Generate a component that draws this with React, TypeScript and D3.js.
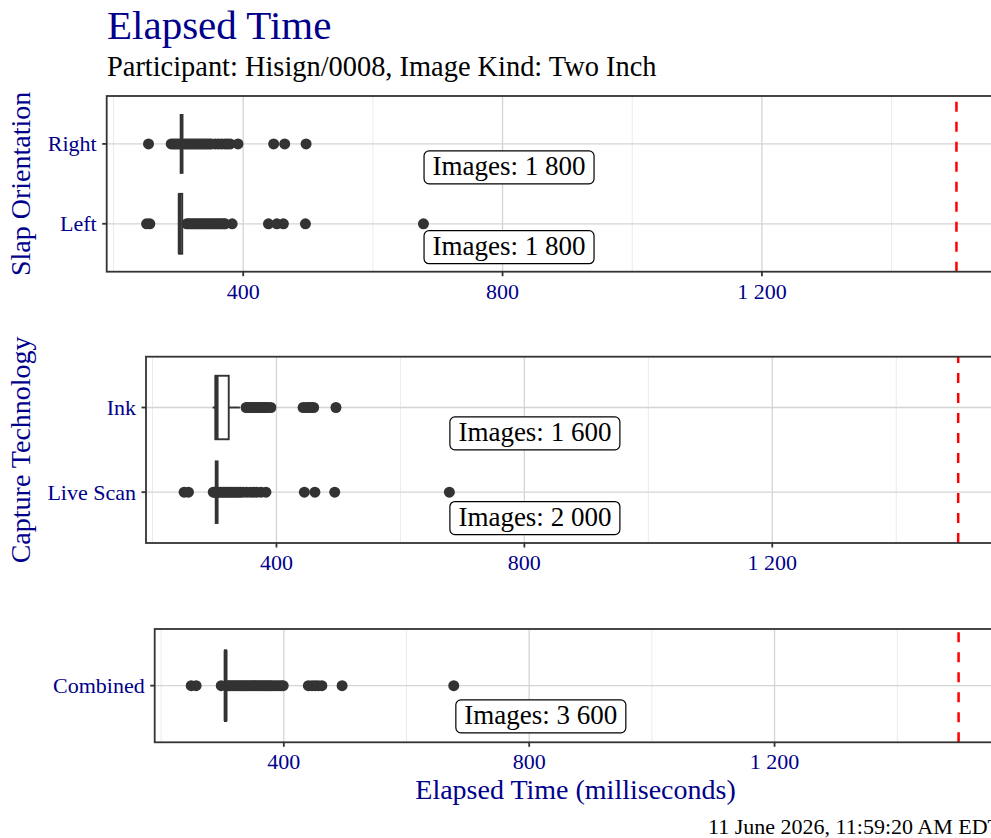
import * as d3 from "d3";

// category levels per panel
const slapLevels = ["Right", "Left"];
const captureLevels = ["Ink", "Live Scan"];
const combinedLevels = ["Combined"];

// box stats: [lower whisker, q1, median, q3, upper whisker] (ms)
const rightBox = [305, 305, 305, 305, 305];
const leftBox = [301, 301, 302, 306, 306];
const inkBox = [297, 301.5, 303.5, 323, 341];
const liveScanBox = [303.5, 303.5, 303.5, 303.5, 303.5];
const combinedBox = [297, 304, 305, 306, 307];

// outliers (ms)
const rightOutliers = [254, 289, 292, 295, 298, 301, 309, 312, 315, 318, 321, 324, 327, 330, 333, 336, 339, 342, 345, 348, 351, 357, 362, 367, 372, 376, 380, 392, 447, 464, 497];
const leftOutliers = [251, 256, 313, 316, 319, 322, 325, 328, 331, 334, 337, 340, 343, 346, 349, 352, 355, 358, 361, 364, 367, 370, 372, 383, 439, 452, 462, 496, 678];
const inkOutliers = [351, 354, 357, 360, 363, 366, 369, 372, 375, 378, 381, 384, 387, 391, 443, 448, 452, 456, 460, 496];
const liveScanOutliers = [251, 258, 298, 300, 302, 306, 309, 312, 315, 318, 321, 324, 327, 330, 333, 336, 339, 342, 346, 352, 358, 363, 368, 375, 383, 445, 462, 494, 679];
const combinedOutliers = [249, 257, 298, 308, 311, 314, 317, 320, 323, 326, 329, 332, 335, 338, 341, 344, 347, 350, 353, 356, 359, 362, 365, 368, 371, 374, 377, 380, 384, 388, 392, 396, 399, 440, 446, 451, 456, 462, 495, 677];

// image counts per category
const slapCounts = [1800, 1800];
const captureCounts = [1600, 2000];
const combinedCounts = [3600];

const xTicks = [400, 800, 1200];
const xMinor = [200, 600, 1000, 1400];
const threshold = 1500;
const xDomain = [189.5, 1561];

const font = "'Liberation Serif', serif";
const navy = "#00008B";
const ink = "#333333";
const fmt = d3.formatLocale({ decimal: ".", thousands: " ", grouping: [3], currency: ["", ""] }).format(",");

type PanelProps = {
  levels: string[];
  boxes: number[][];
  outliers: number[][];
  counts: number[];
  labelX: number;
  left: number;
  top: number;
  bottom: number;
  yTitle?: string;
};

const right = 996;

function Panel({ levels, boxes, outliers, counts, labelX, left, top, bottom, yTitle }: PanelProps) {
  const x = d3.scaleLinear().domain(xDomain).range([left, right]);
  const y = d3.scalePoint<string>().domain(levels).range([top, bottom]).padding(0.6);
  const step = y.step();
  const bw = step * 0.75;
  return (
    <g>
      {/* grid */}
      {xMinor.map((v) => (
        <line key={"mi" + v} x1={x(v)} x2={x(v)} y1={top} y2={bottom} stroke="#ebebeb" strokeWidth={1} />
      ))}
      {xTicks.map((v) => (
        <line key={"ma" + v} x1={x(v)} x2={x(v)} y1={top} y2={bottom} stroke="#d4d4d4" strokeWidth={1.3} />
      ))}
      {levels.map((l) => (
        <line key={"h" + l} x1={left} x2={right} y1={y(l)} y2={y(l)} stroke="#d4d4d4" strokeWidth={1.3} />
      ))}
      {/* boxplots */}
      {levels.map((l, i) => {
        const [wl, q1, md, q3, wh] = boxes[i];
        const cy = y(l) ?? 0;
        return (
          <g key={"b" + l}>
            <line x1={x(wl)} x2={x(q1)} y1={cy} y2={cy} stroke={ink} strokeWidth={1.9} />
            <line x1={x(q3)} x2={x(wh)} y1={cy} y2={cy} stroke={ink} strokeWidth={1.9} />
            <rect x={x(q1)} y={cy - bw / 2} width={Math.max(0, x(q3) - x(q1))} height={bw} fill="white" stroke={ink} strokeWidth={1.9} />
            <line x1={x(md)} x2={x(md)} y1={cy - bw / 2} y2={cy + bw / 2} stroke={ink} strokeWidth={3.8} />
            {outliers[i].map((v, j) => (
              <circle key={j} cx={x(v)} cy={cy} r={5.5} fill={ink} />
            ))}
          </g>
        );
      })}
      {/* threshold */}
      <line x1={x(threshold)} x2={x(threshold)} y1={bottom} y2={top} stroke="red" strokeWidth={2.5} strokeDasharray="10,10" />
      {/* count labels */}
      {levels.map((l, i) => {
        const by = (y(l) ?? 0) + step * 0.5;
        const cx = x(labelX);
        const w = 170;
        const h = 33;
        return (
          <g key={"lab" + l}>
            <rect x={cx - w / 2} y={by - h} width={w} height={h} rx={5} fill="white" stroke="black" strokeWidth={1.2} />
            <text x={cx} y={by - 8.5} textAnchor="middle" fontSize={27} fill="black">
              {"Images: " + fmt(counts[i])}
            </text>
          </g>
        );
      })}
      {/* border */}
      <rect x={left} y={top} width={right - left} height={bottom - top} fill="none" stroke={ink} strokeWidth={1.8} />
      {/* y axis */}
      {levels.map((l) => (
        <g key={"yt" + l}>
          <line x1={left - 4.5} x2={left} y1={y(l)} y2={y(l)} stroke={ink} strokeWidth={1.8} />
          <text x={left - 10} y={(y(l) ?? 0) + 7.5} textAnchor="end" fontSize={22} fill={navy}>{l}</text>
        </g>
      ))}
      {/* x axis */}
      {xTicks.map((v) => (
        <g key={"xt" + v}>
          <line x1={x(v)} x2={x(v)} y1={bottom} y2={bottom + 4.5} stroke={ink} strokeWidth={1.8} />
          <text x={x(v)} y={bottom + 27} textAnchor="middle" fontSize={22} fill={navy}>{fmt(v)}</text>
        </g>
      ))}
      {yTitle && (
        <text transform={`translate(30,${(top + bottom) / 2}) rotate(-90)`} textAnchor="middle" fontSize={28} fill={navy}>
          {yTitle}
        </text>
      )}
    </g>
  );
}

export default function App() {
  return (
    <svg width={991} height={838} style={{ position: "absolute", left: 0, top: 0, background: "white" }} fontFamily={font}>
      <rect width={991} height={838} fill="white" />
      <text x={107} y={39} fontSize={41} fill={navy}>Elapsed Time</text>
      <text x={107} y={76} fontSize={28.4} fill="black">Participant: Hisign/0008, Image Kind: Two Inch</text>
      <Panel
        levels={slapLevels}
        boxes={[rightBox, leftBox]}
        outliers={[rightOutliers, leftOutliers]}
        counts={slapCounts}
        labelX={810}
        left={106.7}
        top={96}
        bottom={271.7}
        yTitle="Slap Orientation"
      />
      <Panel
        levels={captureLevels}
        boxes={[inkBox, liveScanBox]}
        outliers={[inkOutliers, liveScanOutliers]}
        counts={captureCounts}
        labelX={817}
        left={146}
        top={356.7}
        bottom={543}
        yTitle="Capture Technology"
      />
      <Panel
        levels={combinedLevels}
        boxes={[combinedBox]}
        outliers={[combinedOutliers]}
        counts={combinedCounts}
        labelX={819}
        left={154.7}
        top={629}
        bottom={742.3}
      />
      <text x={575.5} y={799} textAnchor="middle" fontSize={28} fill={navy}>Elapsed Time (milliseconds)</text>
      <text x={1001} y={834} textAnchor="end" fontSize={22} fill="black">11 June 2026, 11:59:20 AM EDT</text>
    </svg>
  );
}
